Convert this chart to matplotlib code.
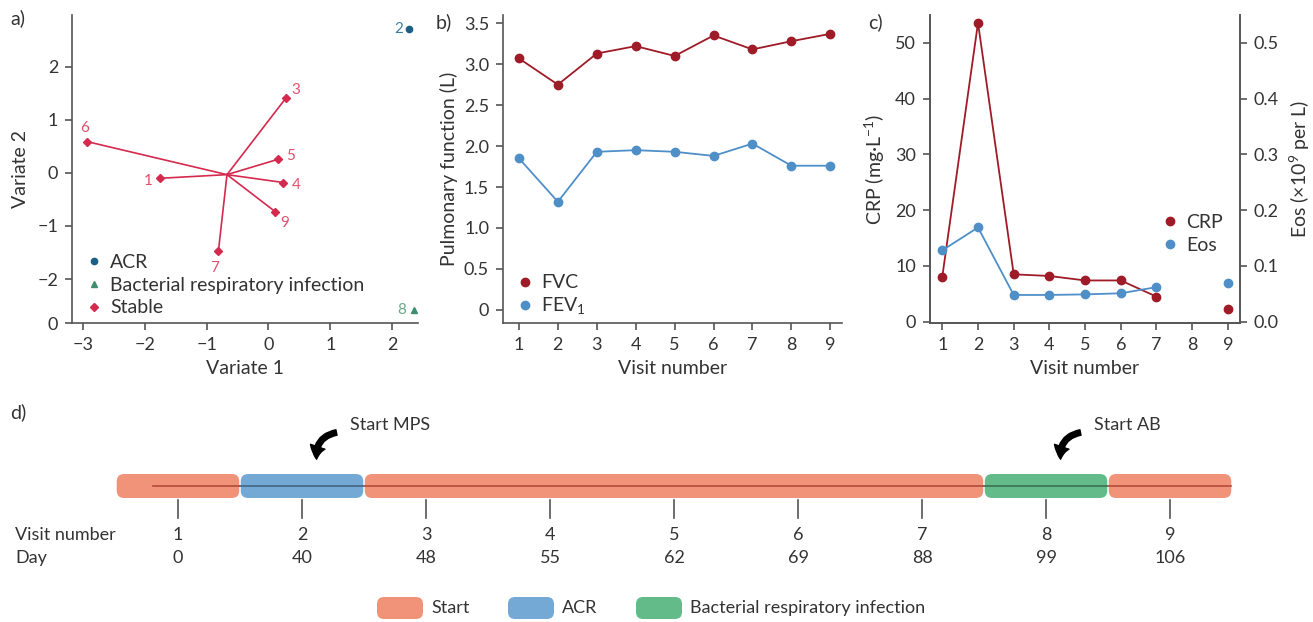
import numpy as np
import matplotlib.pyplot as plt
import matplotlib.colors as mcolors
from matplotlib.patches import FancyBboxPatch, FancyArrowPatch
from matplotlib.lines import Line2D

plt.rcParams['font.family'] = ['Lato', 'DejaVu Sans']
plt.rcParams['font.size'] = 13
plt.rcParams['mathtext.fontset'] = 'custom'
plt.rcParams['mathtext.rm'] = 'Lato'
plt.rcParams['axes.edgecolor'] = '#555555'
plt.rcParams['axes.linewidth'] = 1.2
plt.rcParams['text.color'] = '#333333'
plt.rcParams['axes.labelcolor'] = '#333333'
for ax_ in ('xtick', 'ytick'):
    plt.rcParams[ax_ + '.color'] = '#555555'
    plt.rcParams[ax_ + '.labelcolor'] = '#333333'
    plt.rcParams[ax_ + '.major.width'] = 1.2
    plt.rcParams[ax_ + '.major.size'] = 5
    plt.rcParams[ax_ + '.major.pad'] = 5

# ---- data ----
# a) canonical variates per visit
stable_visits = [1, 3, 4, 5, 6, 7, 9]
stable_v1 = [-1.75, 0.28, 0.24, 0.16, -2.93, -0.81, 0.11]
stable_v2 = [-0.10, 1.41, -0.18, 0.26, 0.59, -1.47, -0.73]
acr_visits = [2]
acr_v1 = [2.28]
acr_v2 = [2.71]
bri_visits = [8]
bri_v1 = [2.36]
bri_v2 = [-2.58]

# b) / c) per visit
visits = [1, 2, 3, 4, 5, 6, 7, 8, 9]
fvc = [3.07, 2.75, 3.13, 3.22, 3.10, 3.35, 3.18, 3.28, 3.37]
fev1 = [1.85, 1.32, 1.93, 1.95, 1.93, 1.88, 2.03, 1.76, 1.76]
crp = [8.1, 53.6, 8.5, 8.2, 7.4, 7.4, 4.5, np.nan, 2.3]
eos = [0.128, 0.169, 0.048, 0.048, 0.049, 0.051, 0.062, np.nan, 0.069]

# d) timeline
days = [0, 40, 48, 55, 62, 69, 88, 99, 106]
phase_names = ['Start', 'ACR', 'Start', 'Bacterial respiratory infection', 'Start']
phase_first = [1, 2, 3, 8, 9]
phase_last = [1, 2, 7, 8, 9]
events = ['Start MPS', 'Start AB']
event_visits = [2, 8]

# ---- colours ----
c_stable = '#d42a4e'
c_acr = '#1b5f82'
c_bri = '#3d8f6c'
c_red = '#9e1b27'
c_blue = '#4f8fc8'
phase_colors = {'Start': '#f09378', 'ACR': '#74a9d6',
                'Bacterial respiratory infection': '#62bb88'}

fig = plt.figure(figsize=(13.13, 6.22), dpi=100)
W, H = 1313, 622


def px_axes(l, r, t, b):
    return fig.add_axes([l / W, 1 - b / H, (r - l) / W, (b - t) / H])


def clean(ax, right=False):
    ax.spines['top'].set_visible(False)
    if not right:
        ax.spines['right'].set_visible(False)


def dots(cols):
    return [Line2D([], [], ls='none', marker='o', ms=6, color=c) for c in cols]


# ---------------- a) ----------------
axa = px_axes(72, 418, 15, 323)
clean(axa)
cx, cy = np.mean(stable_v1), np.mean(stable_v2)
for x, y in zip(stable_v1, stable_v2):
    axa.plot([cx, x], [cy, y], color=c_stable, lw=1.2, zorder=2)
axa.plot(acr_v1, acr_v2, 'o', color=c_acr, ms=4.5, label='ACR', zorder=3)
axa.plot(bri_v1, bri_v2, '^', color=c_bri, ms=5, label='Bacterial respiratory infection', zorder=3)
axa.plot(stable_v1, stable_v2, 'D', color=c_stable, ms=4.5, label='Stable', zorder=3)

lab_off = {1: (-9, -2), 3: (7, 6), 4: (9, -2), 5: (9, 2), 6: (-2, 10), 7: (-3, -12),
           9: (7, -8), 2: (-8, 0), 8: (-9, 0)}
for vs, xs, ys, col in [(stable_visits, stable_v1, stable_v2, '#e0506e'),
                        (acr_visits, acr_v1, acr_v2, '#3d7fa3'),
                        (bri_visits, bri_v1, bri_v2, '#6aa88a')]:
    for v, x, y in zip(vs, xs, ys):
        axa.annotate(str(v), (x, y), xytext=lab_off[v], textcoords='offset points',
                     ha='center', va='center', color=col, fontsize=11)

axa.set_xlim(-3.18, 2.42)
axa.set_ylim(-2.83, 2.98)
axa.set_xticks([-3, -2, -1, 0, 1, 2])
axa.set_xticklabels(['\u22123', '\u22122', '\u22121', '0', '1', '2'])
axa.set_yticks([-2.83, -2, -1, 0, 1, 2])
axa.set_yticklabels(['0', '\u22122', '\u22121', '0', '1', '2'])
axa.set_xlabel('Variate 1', fontsize=14, labelpad=5)
axa.set_ylabel('Variate 2', fontsize=14, labelpad=6)
axa.legend(loc='lower left', frameon=False, handlelength=0.6, handletextpad=0.5,
           borderaxespad=0.1, labelspacing=0.3, fontsize=14, bbox_to_anchor=(0.02, -0.01))

# ---------------- b) ----------------
axb = px_axes(503, 842, 15, 323)
clean(axb)
axb.plot(visits, fvc, '-o', color=c_red, lw=1.3, ms=6)
axb.plot(visits, fev1, '-o', color=c_blue, lw=1.3, ms=6)
axb.set_xlim(0.59, 9.3)
axb.set_ylim(-0.16, 3.6)
axb.set_xticks(visits)
axb.set_yticks(np.arange(0, 3.51, 0.5))
axb.set_yticklabels(['0', '0.5', '1.0', '1.5', '2.0', '2.5', '3.0', '3.5'])
axb.set_xlabel('Visit number', fontsize=14, labelpad=5)
axb.set_ylabel('Pulmonary function (L)', fontsize=14, labelpad=4)
axb.legend(dots([c_red, c_blue]), ['FVC', 'FEV$\\mathregular{_1}$'], loc='lower left',
           frameon=False, handlelength=0.6, handletextpad=0.5, borderaxespad=0.1,
           labelspacing=0.2, fontsize=14, bbox_to_anchor=(0.02, -0.01))

# ---------------- c) ----------------
axc = px_axes(930, 1240, 15, 323)
axc.spines['top'].set_visible(False)
axc.plot(visits, crp, '-o', color=c_red, lw=1.3, ms=6, zorder=3)
axc.set_xlim(0.655, 9.34)
axc.set_ylim(-0.23, 55.0)
axc.set_xticks(visits)
axc.set_yticks([0, 10, 20, 30, 40, 50])
axc.set_xlabel('Visit number', fontsize=14, labelpad=5)
axc.set_ylabel('CRP (mg\u00b7L$\\mathregular{^{-1}}$)', fontsize=14, labelpad=6)
axc2 = axc.twinx()
axc2.spines['top'].set_visible(False)
axc2.plot(visits, eos, '-o', color=c_blue, lw=1.3, ms=6, zorder=2)
axc2.set_ylim(-0.0023, 0.550)
axc2.set_yticks([0, 0.1, 0.2, 0.3, 0.4, 0.5])
axc2.set_yticklabels(['0.0', '0.1', '0.2', '0.3', '0.4', '0.5'])
axc2.set_ylabel('Eos (\u00d710$\\mathregular{^9}$ per L)', fontsize=14, labelpad=6)
axc2.legend(dots([c_red, c_blue]), ['CRP', 'Eos'], loc='center left', frameon=False,
            handlelength=0.6, handletextpad=0.5, labelspacing=0.3, fontsize=14,
            bbox_to_anchor=(0.70, 0.29))

fig.text(10 / W, 1 - 18 / H, 'a)', fontsize=14, va='center')
fig.text(436 / W, 1 - 22 / H, 'b)', fontsize=14, va='center')
fig.text(868 / W, 1 - 22 / H, 'c)', fontsize=14, va='center')
fig.text(10 / W, 1 - 412 / H, 'd)', fontsize=14, va='center')

# ---------------- d) timeline ----------------
axd = fig.add_axes([0, 0, 1, 222 / H])
axd.axis('off')
ppu = 124.0  # pixels per visit
axd.set_xlim(1 - 178 / ppu, 1 + (W - 178) / ppu)
axd.set_ylim(622, 400)
bar_top, bar_h = 474, 24
gap = 0.006
for name, v0, v1 in zip(phase_names, phase_first, phase_last):
    col = phase_colors[name]
    axd.add_patch(FancyBboxPatch((v0 - 0.5 + gap, bar_top), (v1 - v0 + 1) - 2 * gap, bar_h,
                                 boxstyle='round,pad=0,rounding_size=0.06',
                                 mutation_aspect=ppu, fc=col, ec='none', zorder=2))
    dark = np.array(mcolors.to_rgb(col)) * np.array([0.75, 0.5, 0.5]) if name == 'Start' \
        else np.array(mcolors.to_rgb(col)) * 0.6
    axd.plot([max(v0 - 0.5, visits[0] - 0.2), v1 + 0.5 - gap], [bar_top + bar_h / 2] * 2,
             color=dark, lw=1.2, zorder=3)
for v, d in zip(visits, days):
    axd.plot([v, v], [bar_top + bar_h + 2, bar_top + bar_h + 20], color='#555555', lw=1.2)
    axd.text(v, 535, str(v), ha='center', va='center', fontsize=13)
    axd.text(v, 558, str(d), ha='center', va='center', fontsize=13)
axd.text(1 - 163 / ppu, 535, 'Visit number', ha='left', va='center', fontsize=13)
axd.text(1 - 163 / ppu, 558, 'Day', ha='left', va='center', fontsize=13)
for ev, v in zip(events, event_visits):
    axd.add_patch(FancyArrowPatch((v + 0.30, 432), (v + 0.12, 462),
                                  connectionstyle='arc3,rad=0.5',
                                  arrowstyle='simple,head_length=9,head_width=11,tail_width=4',
                                  mutation_scale=1, color='k', zorder=4))
    axd.text(v + 0.39, 425, ev, ha='left', va='center', fontsize=13)

# legend for timeline
axl = fig.add_axes([0, 0, 1, 40 / H])
axl.axis('off')
axl.set_xlim(0, W)
axl.set_ylim(40, 0)
leg_names = ['Start', 'ACR', 'Bacterial respiratory infection']
leg_x = [377, 508, 636]
for name, x in zip(leg_names, leg_x):
    axl.add_patch(FancyBboxPatch((x, 15), 46, 22, boxstyle='round,pad=0,rounding_size=7',
                                 fc=phase_colors[name], ec='none'))
    axl.text(x + 54, 26, name, ha='left', va='center', fontsize=13)

fig.savefig('out.png', dpi=100)
